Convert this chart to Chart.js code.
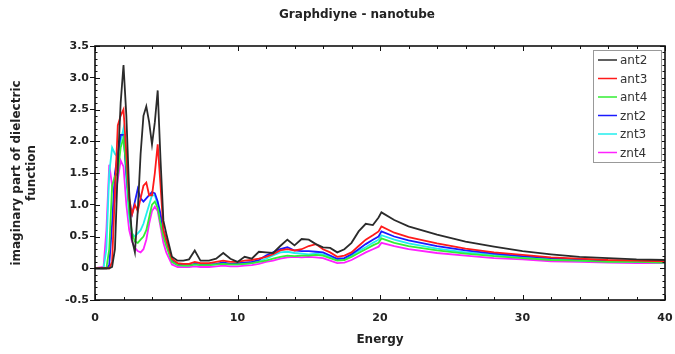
<!DOCTYPE html>
<html>
<head>
<meta charset="utf-8">
<script src="https://cdn.jsdelivr.net/npm/chart.js@4/dist/chart.umd.min.js"></script>
<style>
  html, body { margin: 0; padding: 0; background: #fff; }
</style>
</head>
<body>
<canvas id="eps-chart" width="675" height="354"></canvas>
<script>
"use strict";

Chart.defaults.font.family = "'DejaVu Sans', sans-serif";
Chart.defaults.color = "#222";

// photon energy grid shared by all curves
var energy = [0, 0.6, 0.8, 1.0, 1.2, 1.4, 1.6, 1.8, 2.0, 2.2, 2.4, 2.6, 2.8, 3.0, 3.2, 3.4, 3.6, 3.8, 4.0, 4.2,
  4.4, 4.6, 4.8, 5.0, 5.4, 5.8, 6.2, 6.6, 7.0, 7.4, 8.0, 8.5, 9.0, 9.5, 10, 10.5, 11, 11.5, 12, 12.5,
  13, 13.5, 14, 14.5, 15, 15.5, 16, 16.5, 17, 17.5, 18, 18.5, 19, 19.5, 19.9, 20.1, 21, 22, 24, 26,
  28, 30, 32, 34, 36, 38, 40];

var ant2 = [0, 0, 0, 0, 0.02, 0.3, 1.6, 2.6, 3.2, 2.4, 1.2, 0.45, 0.25, 0.9, 1.8, 2.4, 2.55, 2.3, 1.95, 2.3,
  2.8, 1.7, 0.75, 0.55, 0.18, 0.12, 0.12, 0.14, 0.28, 0.12, 0.12, 0.15, 0.24, 0.15, 0.1, 0.18, 0.15, 0.26, 0.25, 0.24,
  0.35, 0.45, 0.36, 0.46, 0.45, 0.38, 0.33, 0.32, 0.25, 0.3, 0.4, 0.58, 0.7, 0.68, 0.8, 0.88, 0.76, 0.66, 0.53, 0.42,
  0.34, 0.27, 0.22, 0.18, 0.16, 0.14, 0.13];

var ant3 = [0, 0, 0, 0, 0.1, 1.2, 2.25, 2.4, 2.5, 1.8, 1.1, 0.85, 1.0, 0.9, 1.1, 1.3, 1.35, 1.15, 1.15, 1.5,
  1.95, 1.3, 0.6, 0.45, 0.15, 0.08, 0.07, 0.07, 0.1, 0.08, 0.08, 0.1, 0.12, 0.1, 0.1, 0.12, 0.13, 0.15, 0.18, 0.22,
  0.28, 0.3, 0.28, 0.3, 0.35, 0.38, 0.3, 0.25, 0.18, 0.2, 0.25, 0.35, 0.45, 0.52, 0.58, 0.66, 0.56, 0.49, 0.39, 0.31,
  0.25, 0.21, 0.17, 0.15, 0.13, 0.12, 0.11];

var ant4 = [0, 0, 0, 0.3, 1.3, 1.45, 1.5, 1.9, 2.05, 1.6, 0.9, 0.55, 0.42, 0.4, 0.45, 0.5, 0.6, 0.8, 1.0, 1.05,
  0.95, 0.7, 0.5, 0.35, 0.1, 0.05, 0.04, 0.04, 0.06, 0.05, 0.05, 0.06, 0.07, 0.06, 0.06, 0.07, 0.08, 0.1, 0.12, 0.15,
  0.18, 0.2, 0.19, 0.2, 0.2, 0.21, 0.2, 0.16, 0.12, 0.13, 0.18, 0.24, 0.3, 0.36, 0.4, 0.47, 0.4, 0.35, 0.28, 0.23,
  0.19, 0.16, 0.13, 0.12, 0.1, 0.1, 0.09];

var znt2 = [0, 0, 0, 0.05, 0.7, 1.5, 1.8, 2.1, 2.1, 1.5, 1.0, 0.85, 1.05, 1.25, 1.1, 1.05, 1.1, 1.15, 1.2, 1.18,
  1.05, 0.85, 0.6, 0.45, 0.12, 0.06, 0.05, 0.05, 0.07, 0.06, 0.06, 0.07, 0.09, 0.07, 0.08, 0.09, 0.1, 0.13, 0.2, 0.25,
  0.3, 0.33, 0.28, 0.27, 0.27, 0.26, 0.25, 0.2, 0.15, 0.16, 0.22, 0.3, 0.38, 0.45, 0.5, 0.58, 0.5, 0.44, 0.35, 0.28,
  0.23, 0.19, 0.16, 0.14, 0.12, 0.11, 0.1];

var znt3 = [0, 0, 0.3, 1.5, 1.9, 1.8, 1.75, 2.0, 2.2, 1.4, 0.8, 0.55, 0.5, 0.55, 0.6, 0.7, 0.85, 1.0, 1.15, 1.15,
  1.0, 0.8, 0.55, 0.4, 0.1, 0.05, 0.04, 0.04, 0.06, 0.05, 0.05, 0.06, 0.07, 0.06, 0.06, 0.07, 0.08, 0.11, 0.15, 0.2,
  0.25, 0.26, 0.24, 0.23, 0.22, 0.23, 0.22, 0.18, 0.13, 0.14, 0.2, 0.27, 0.33, 0.4, 0.45, 0.52, 0.45, 0.39, 0.31, 0.25,
  0.21, 0.17, 0.14, 0.12, 0.11, 0.1, 0.09];

var znt4 = [0, 0.02, 0.6, 1.63, 1.3, 1.1, 1.4, 1.7, 1.6, 1.0, 0.6, 0.42, 0.32, 0.27, 0.25, 0.3, 0.45, 0.7, 0.9, 0.97,
  0.9, 0.65, 0.4, 0.25, 0.06, 0.02, 0.02, 0.02, 0.03, 0.02, 0.02, 0.03, 0.04, 0.03, 0.03, 0.04, 0.05, 0.07, 0.1, 0.12,
  0.15, 0.17, 0.18, 0.17, 0.18, 0.17, 0.16, 0.12, 0.08, 0.09, 0.13, 0.19, 0.25, 0.3, 0.34, 0.4, 0.35, 0.3, 0.24, 0.2,
  0.16, 0.14, 0.11, 0.1, 0.09, 0.08, 0.08];

var seriesNames = ["ant2", "ant3", "ant4", "znt2", "znt3", "znt4"];
var seriesValues = [ant2, ant3, ant4, znt2, znt3, znt4];
var seriesColors = ["#2b2b2b", "#ff1a1a", "#33ee33", "#1a1aff", "#22eeee", "#ff22ff"];

function toPoints(values) {
  return values.map(function (v, i) {
    return { x: energy[i], y: v };
  });
}

// title text, drawn over the plot centre
var titlePlugin = {
  id: "titleText",
  afterDraw: function (chart) {
    var ctx = chart.ctx;
    ctx.save();
    ctx.font = "bold 12px 'DejaVu Sans', sans-serif";
    ctx.fillStyle = "#222";
    ctx.textAlign = "center";
    ctx.textBaseline = "middle";
    ctx.fillText("Graphdiyne - nanotube", 357, 15);
    ctx.restore();
  },
};

// box round the plot with inward minor ticks on all four sides
var framePlugin = {
  id: "frame",
  afterDatasetsDraw: function (chart) {
    var ctx = chart.ctx;
    var a = chart.chartArea;
    var sx = chart.scales.x;
    var sy = chart.scales.y;
    ctx.save();
    ctx.strokeStyle = "#111";
    ctx.lineWidth = 1;
    ctx.beginPath();
    for (var v = 0; v <= 40; v += 2) {
      var px = Math.round(sx.getPixelForValue(v)) + 0.5;
      var len = v % 10 === 0 ? 5 : 3;
      ctx.moveTo(px, a.bottom);
      ctx.lineTo(px, a.bottom - len);
      ctx.moveTo(px, a.top);
      ctx.lineTo(px, a.top + len);
    }
    for (var i = -5; i <= 35; i++) {
      var py = Math.round(sy.getPixelForValue(i / 10)) + 0.5;
      var l = i % 5 === 0 ? 5 : 2.5;
      ctx.moveTo(a.left, py);
      ctx.lineTo(a.left + l, py);
      ctx.moveTo(a.right, py);
      ctx.lineTo(a.right - l, py);
    }
    ctx.stroke();
    ctx.lineWidth = 1.6;
    ctx.strokeRect(a.left, a.top, a.right - a.left, a.bottom - a.top);
    ctx.restore();
  },
};

// legend box in the upper right corner of the plot
var legendPlugin = {
  id: "boxLegend",
  afterDraw: function (chart) {
    var ctx = chart.ctx;
    var a = chart.chartArea;
    var x0 = a.right - 72;
    var y0 = a.top + 4;
    ctx.save();
    ctx.fillStyle = "#fff";
    ctx.fillRect(x0, y0, 68, 112);
    ctx.strokeStyle = "#999";
    ctx.lineWidth = 1;
    ctx.strokeRect(x0 + 0.5, y0 + 0.5, 68, 112);
    ctx.font = "12px 'DejaVu Sans', sans-serif";
    ctx.textBaseline = "middle";
    chart.data.datasets.forEach(function (ds, i) {
      var y = y0 + 10 + i * 18.5;
      ctx.strokeStyle = ds.borderColor;
      ctx.lineWidth = 1.5;
      ctx.beginPath();
      ctx.moveTo(x0 + 5, y);
      ctx.lineTo(x0 + 24, y);
      ctx.stroke();
      ctx.fillStyle = "#333";
      ctx.fillText(ds.label, x0 + 27, y + 1);
    });
    ctx.restore();
  },
};

var ctx1 = document.getElementById("eps-chart").getContext("2d");

var epsChart = new Chart(ctx1, {
  type: "line",
  data: {
    datasets: seriesNames.map(function (name, i) {
      return {
        label: name,
        data: toPoints(seriesValues[i]),
        borderColor: seriesColors[i],
        backgroundColor: seriesColors[i],
        borderWidth: 1.8,
        pointRadius: 0,
        tension: 0,
        fill: false,
      };
    }),
  },
  options: {
    responsive: false,
    animation: false,
    layout: {
      padding: { top: 46, right: 10, left: 0, bottom: 7 },
    },
    plugins: {
      legend: { display: false },
      tooltip: { enabled: false },
    },
    scales: {
      x: {
        type: "linear",
        min: 0,
        max: 40,
        border: { display: false },
        grid: { drawOnChartArea: false, tickLength: 0 },
        ticks: {
          stepSize: 10,
          padding: 12,
          font: { size: 11, weight: "bold" },
        },
        title: {
          display: true,
          text: "Energy",
          font: { size: 12, weight: "bold" },
          padding: { top: 2, bottom: 0 },
        },
        afterFit: function (scale) {
          scale.height = 47;
          scale.paddingRight = 0;
        },
      },
      y: {
        min: -0.5,
        max: 3.5,
        border: { display: false },
        grid: { drawOnChartArea: false, tickLength: 5, color: "#111" },
        ticks: {
          stepSize: 0.5,
          padding: 1,
          font: { size: 11, weight: "bold" },
        },
        title: {
          display: true,
          text: ["imaginary part of dielectric", "function"],
          font: { size: 12, weight: "bold" },
          padding: { top: 10, bottom: 0 },
        },
        afterFit: function (scale) {
          scale.width = 95;
        },
      },
    },
  },
  plugins: [titlePlugin, framePlugin, legendPlugin],
});
</script>
</body>
</html>
